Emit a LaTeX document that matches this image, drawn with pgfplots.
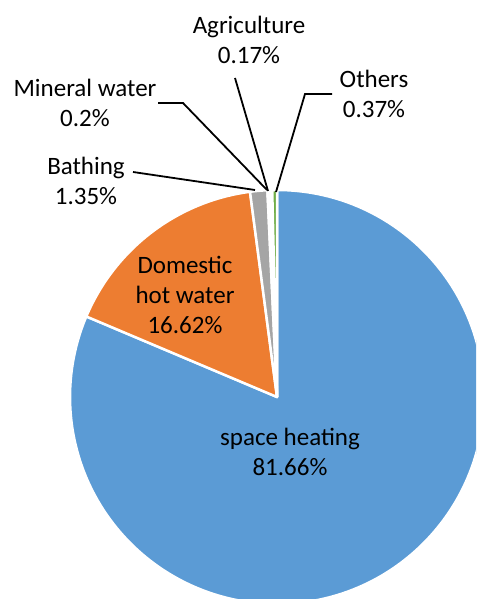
\documentclass[border=0pt]{standalone}
\usepackage{pgfplots}
\usepackage{pgfplotstable}
\pgfplotsset{compat=1.18}
\usepackage{fontspec}
\setmainfont{Carlito}

\definecolor{c0}{HTML}{5B9BD5}
\definecolor{c1}{HTML}{ED7D31}
\definecolor{c2}{HTML}{A5A5A5}
\definecolor{c3}{HTML}{FFC000}
\definecolor{c4}{HTML}{4472C4}
\definecolor{c5}{HTML}{70AD47}

% shares in percent, clockwise from 12 o'clock
\pgfplotstableread{
value
81.66
16.62
1.35
0.2
0.17
0.37
}\piedata

\tikzset{lbl/.style={font=\fontsize{12.5}{15}\selectfont, align=center, text=black, inner sep=0pt}}

\begin{document}
\begin{tikzpicture}
% cumulative angles of the slices
\pgfmathsetmacro\total{0}
\pgfplotsforeachungrouped \i in {0,...,5}{%
  \pgfplotstablegetelem{\i}{value}\of\piedata
  \pgfmathsetmacro\total{\total+\pgfplotsretval}}
\pgfmathsetmacro\degper{360/\total}
\pgfmathsetmacro\cum{0}
\pgfplotsforeachungrouped \i in {0,...,5}{%
  \pgfplotstablegetelem{\i}{value}\of\piedata
  \pgfmathsetmacro\sa{90-\cum*\degper}
  \pgfmathsetmacro\cum{\cum+\pgfplotsretval}
  \pgfmathsetmacro\ea{90-\cum*\degper}
  \expandafter\let\csname sa\i\endcsname\sa
  \expandafter\let\csname ea\i\endcsname\ea}

\begin{axis}[
    width=238pt, height=299.5pt, scale only axis,
    xmin=0, xmax=476, ymin=-599, ymax=0,
    hide axis, clip=true,
    axis background/.style={fill=white},
]
\coordinate (sw) at (axis cs:0,-599);
\coordinate (ne) at (axis cs:476,0);
\begin{scope}[x={(axis direction cs:1,0)}, y={(axis direction cs:0,1)}]
\pgfplotsinvokeforeach{0,...,5}{
  \filldraw[fill=c#1, draw=white, line width=1.25pt, line join=round]
    (axis cs:277,-397) -- ++(\csname sa#1\endcsname:207)
    arc[start angle=\csname sa#1\endcsname, end angle=\csname ea#1\endcsname, radius=207] -- cycle;
}
\end{scope}

% leader lines
\draw[line width=0.9pt] (axis cs:133,-172) -- (axis cs:255,-190);
\draw[line width=0.9pt] (axis cs:158,-103) -- (axis cs:183,-103) -- (axis cs:267,-190);
\draw[line width=0.9pt] (axis cs:235,-78) -- (axis cs:268,-191);
\draw[line width=0.9pt] (axis cs:332,-94) -- (axis cs:305,-94) -- (axis cs:276,-192);

% labels
\node[lbl] at (axis cs:249,-40) {Agriculture\\0.17\%};
\node[lbl] at (axis cs:374,-94) {Others\\0.37\%};
\node[lbl] at (axis cs:85,-103) {Mineral water\\0.2\%};
\node[lbl] at (axis cs:86,-181) {Bathing\\1.35\%};
\node[lbl] at (axis cs:185,-295) {Domestic\\hot water\\16.62\%};
\node[lbl] at (axis cs:290,-452) {space heating\\81.66\%};
\end{axis}
\pgfresetboundingbox
\useasboundingbox (sw) rectangle (ne);
\end{tikzpicture}
\end{document}
